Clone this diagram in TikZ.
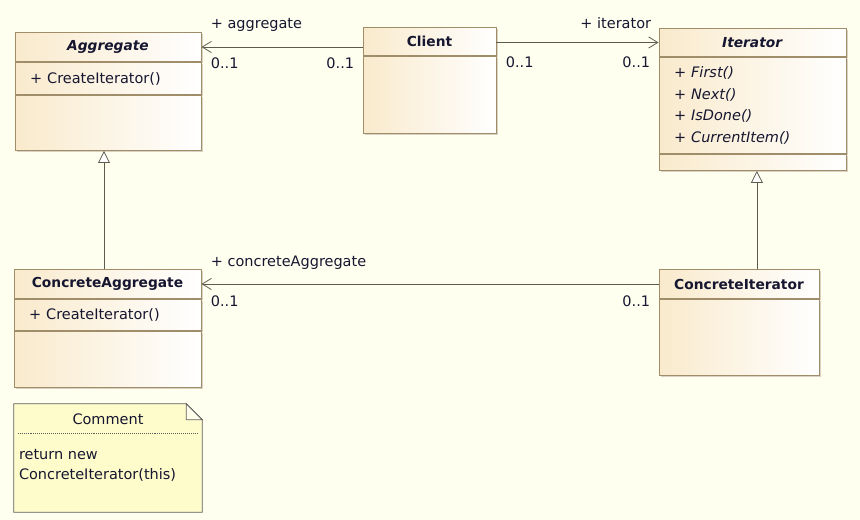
\documentclass[tikz,border=0pt]{standalone}
\usepackage{fontspec}
\setmainfont{DejaVu Sans}
\usepackage{xcolor}
\usepackage{tikz}
\usetikzlibrary{arrows.meta,positioning,calc,shadows}
\definecolor{ubg}{RGB}{255,255,240}
\definecolor{ufill}{RGB}{249,234,204}
\definecolor{uline}{RGB}{160,142,106}
\definecolor{uwire}{RGB}{96,90,78}
\definecolor{unote}{RGB}{255,252,204}
\definecolor{unoteline}{RGB}{95,95,95}
\definecolor{utext}{RGB}{22,22,48}
\tikzset{
  part/.style  ={rectangle, draw=uline, line width=0.7pt, left color=ufill, right color=white,
                 inner xsep=0.38cm, inner ysep=0pt, text=utext,
                 font=\fontsize{10.3}{15.4}\selectfont,
                 drop shadow={shadow xshift=0.05cm, shadow yshift=-0.05cm,
                              fill=uline!40, opacity=1}},
  head/.style  ={part, align=center, font=\fontsize{9.8}{12}\selectfont\bfseries},
  ops/.style   ={part, align=left},
  lbl/.style   ={inner sep=0pt, text=utext, font=\fontsize{10.3}{12}\selectfont},
  assoc/.style ={-{Straight Barb[length=2.3mm, width=2.8mm]}, draw=uwire, line width=0.55pt},
  gen/.style   ={-{Triangle[length=3mm, width=3mm, fill=white]}, draw=uwire, line width=0.55pt},
  notebox/.style={draw=unoteline, fill=unote, line width=0.6pt}
}
\begin{document}
\begin{tikzpicture}
\fill[ubg] (0,0) rectangle (21.5,-13);
\useasboundingbox (0,0) rectangle (21.5,-13);

% Aggregate
\node[head, text width=3.89cm, minimum height=0.725cm, anchor=north] (aggT) at (2.7,-0.8)
  {\textit{Aggregate}};
\node[ops, text width=3.89cm, minimum height=0.8cm, below=0pt of aggT] (aggO) {+ CreateIterator()};
\node[part, text width=3.89cm, minimum height=1.375cm, below=0pt of aggO] (aggE) {};

% Client
\node[head, text width=2.565cm, minimum height=0.7cm, anchor=north] (cliT) at (10.7375,-0.675)
  {Client};
\node[part, text width=2.565cm, minimum height=1.925cm, below=0pt of cliT] (cliE) {};

% Iterator
\node[head, text width=3.915cm, minimum height=0.7cm, anchor=north] (itT) at (18.8125,-0.7)
  {\textit{Iterator}};
\node[ops, text width=3.915cm, minimum height=2.4cm, below=0pt of itT] (itO)
  {+ \textit{First()}\\+ \textit{Next()}\\+ \textit{IsDone()}\\+ \textit{CurrentItem()}};
\node[part, text width=3.915cm, minimum height=0.4cm, below=0pt of itO] (itE) {};

% ConcreteAggregate
\node[head, text width=3.915cm, minimum height=0.725cm, anchor=north] (caT) at (2.6875,-6.725)
  {ConcreteAggregate};
\node[ops, text width=3.915cm, minimum height=0.775cm, below=0pt of caT] (caO) {+ CreateIterator()};
\node[part, text width=3.915cm, minimum height=1.4cm, below=0pt of caO] (caE) {};

% ConcreteIterator
\node[head, text width=3.24cm, minimum height=0.725cm, anchor=north] (ciT) at (18.475,-6.725)
  {ConcreteIterator};
\node[part, text width=3.24cm, minimum height=1.9cm, below=0pt of ciT] (ciE) {};

% note
\node[minimum width=4.7cm, minimum height=2.7cm, inner sep=0pt] (cm) at (2.7,-11.45) {};
\draw[notebox] (cm.north west) -- ($(cm.north east)+(-0.4,0)$) -- ($(cm.north east)+(0,-0.4)$)
  -- (cm.south east) -- (cm.south west) -- cycle;
\draw[draw=unoteline, fill=unote!40, line width=0.6pt] ($(cm.north east)+(-0.4,0)$) |- ($(cm.north east)+(0,-0.4)$) -- cycle;
\node[lbl] (cmT) at ($(cm.north)+(0,-0.4)$) {Comment};
\draw[densely dotted, draw=unoteline] ($(cm.north west)+(0.1,-0.75)$) -- ($(cm.north east)+(-0.1,-0.75)$);
\node[lbl, anchor=west, align=left, font=\fontsize{10.3}{14.2}\selectfont] (cmB)
  at ($(cm.north west)+(0.125,-1.55)$) {return new\\ConcreteIterator(this)};

% associations
\draw[assoc] (cliT.west |- aggT) -- (aggT.east)
  node[lbl, pos=1, anchor=west, xshift=0.225cm, yshift=0.56cm] {+ aggregate}
  node[lbl, pos=1, anchor=west, xshift=0.225cm, yshift=-0.41cm] {0..1}
  node[lbl, pos=0, anchor=east, xshift=-0.2cm, yshift=-0.41cm] {0..1};
\draw[assoc] (cliT.east |- itT) -- (itT.west)
  node[lbl, pos=1, anchor=east, xshift=-0.175cm, yshift=0.475cm] {+ iterator}
  node[lbl, pos=0, anchor=west, xshift=0.225cm, yshift=-0.5cm] {0..1}
  node[lbl, pos=1, anchor=east, xshift=-0.2cm, yshift=-0.5cm] {0..1};
\draw[assoc] (ciT.west) -- (caT.east)
  node[lbl, pos=1, anchor=west, xshift=0.225cm, yshift=0.525cm] {+ concreteAggregate}
  node[lbl, pos=1, anchor=west, xshift=0.225cm, yshift=-0.425cm] {0..1}
  node[lbl, pos=0, anchor=east, xshift=-0.2cm, yshift=-0.425cm] {0..1};

% generalizations
\draw[gen] ([xshift=-0.1cm]aggE.south |- caT.north) -- ([xshift=-0.1cm]aggE.south);
\draw[gen] ([xshift=0.11cm]itE.south |- ciT.north) -- ([xshift=0.11cm]itE.south);
\end{tikzpicture}
\end{document}
